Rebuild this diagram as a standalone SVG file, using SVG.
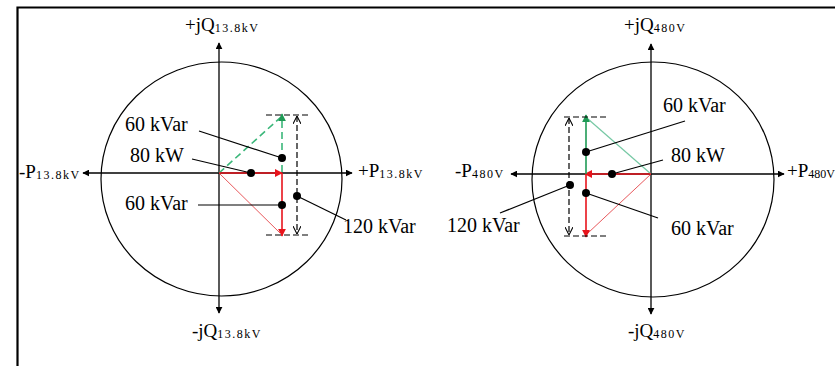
<svg xmlns="http://www.w3.org/2000/svg" width="835" height="366" viewBox="0 0 835 366">
<style>
.ax{stroke:#000;stroke-width:1.3;fill:none}
.circ{stroke:#000;stroke-width:1.2;fill:none}
.red{stroke:#e8141c;stroke-width:1.6;fill:none}
.redt{stroke:#e8585c;stroke-width:1;fill:none}
.grn{stroke:#1f9a55;stroke-width:1.6;fill:none}
.grnd{stroke:#3bb77a;stroke-width:1.6;fill:none;stroke-dasharray:7 4}
.grnt{stroke:#76c8a4;stroke-width:1.2;fill:none}
.dsh{stroke:#000;stroke-width:1.2;fill:none;stroke-dasharray:6 3}
.ld{stroke:#000;stroke-width:1.2;fill:none}
.dot{fill:#000}
text{font-family:"Liberation Serif","Times New Roman",serif;fill:#000}
.lbl{font-size:20px}
.axl{font-size:19px}
.sub{font-size:12px;letter-spacing:1.5px}
.subn{font-size:12px}
</style>
<defs>
<marker id="ak" viewBox="0 0 10 10" refX="9" refY="5" markerWidth="7" markerHeight="7" orient="auto-start-reverse" markerUnits="userSpaceOnUse"><path d="M0,0 L10,5 L0,10 z" fill="#000"/></marker>
<marker id="ar" viewBox="0 0 10 10" refX="9" refY="5" markerWidth="8" markerHeight="8" orient="auto" markerUnits="userSpaceOnUse"><path d="M0,0 L10,5 L0,10 z" fill="#e8141c"/></marker>
<marker id="ag" viewBox="0 0 10 10" refX="9" refY="5" markerWidth="8" markerHeight="8" orient="auto" markerUnits="userSpaceOnUse"><path d="M0,0 L10,5 L0,10 z" fill="#1f9a55"/></marker>
<marker id="ao" viewBox="0 0 10 10" refX="10" refY="5" markerWidth="8" markerHeight="8" orient="auto-start-reverse" markerUnits="userSpaceOnUse"><path d="M0,0 L10,5 L0,10" fill="none" stroke="#000" stroke-width="1.3"/></marker>
</defs>
<rect width="835" height="366" fill="#fff"/>
<path d="M17.5,366 V7.5 H835" stroke="#000" stroke-width="2.2" fill="none"/>

<g id="left-diagram">
<ellipse class="circ" cx="221.5" cy="179" rx="120.5" ry="117"/>
<line class="ax" x1="219" y1="173" x2="219" y2="43" marker-end="url(#ak)"/>
<line class="ax" x1="219" y1="173" x2="219" y2="313" marker-end="url(#ak)"/>
<line class="ax" x1="219" y1="173" x2="83" y2="173" marker-end="url(#ak)"/>
<line class="ax" x1="219" y1="173" x2="352" y2="173" marker-end="url(#ak)"/>
<text class="axl" x="185" y="30.5">+jQ<tspan class="sub" dy="1">13.8kV</tspan></text>
<text class="axl" x="192" y="337">-jQ<tspan class="sub" dy="1">13.8kV</tspan></text>
<text class="axl" x="19" y="178">-P<tspan class="sub" dy="1">13.8kV</tspan></text>
<text class="axl" x="358" y="177">+P<tspan class="sub" dy="1">13.8kV</tspan></text>
</g>

<g id="left-vectors">
<line class="grnd" x1="219" y1="173" x2="281" y2="117"/>
<line class="redt" x1="219" y1="173" x2="280" y2="233"/>
<line class="red" x1="219" y1="173" x2="282" y2="173" marker-end="url(#ar)"/>
<line class="red" x1="282" y1="173" x2="282" y2="236" marker-end="url(#ar)"/>
<line class="grnd" x1="282" y1="172" x2="282" y2="114" marker-end="url(#ag)"/>
<line class="dsh" x1="266" y1="115" x2="308" y2="115"/>
<line class="dsh" x1="266" y1="235" x2="308" y2="235"/>
<line class="dsh" x1="297" y1="116" x2="297" y2="234" marker-start="url(#ao)" marker-end="url(#ao)"/>
</g>

<g id="left-labels">
<line class="ld" x1="199" y1="131" x2="282" y2="158"/>
<line class="ld" x1="192" y1="159" x2="251" y2="173"/>
<line class="ld" x1="198" y1="205" x2="282" y2="205"/>
<line class="ld" x1="297" y1="196" x2="346" y2="220"/>
<circle class="dot" cx="282" cy="158" r="4"/>
<circle class="dot" cx="251" cy="173" r="4"/>
<circle class="dot" cx="282" cy="205" r="4"/>
<circle class="dot" cx="297" cy="196" r="4"/>
<text class="lbl" x="125" y="131">60 kVar</text>
<text class="lbl" x="130" y="162">80 kW</text>
<text class="lbl" x="125" y="210">60 kVar</text>
<text class="lbl" x="343" y="233">120 kVar</text>
</g>

<g id="right-diagram">
<ellipse class="circ" cx="653" cy="179.5" rx="121" ry="117.5"/>
<line class="ax" x1="651" y1="174" x2="651" y2="44" marker-end="url(#ak)"/>
<line class="ax" x1="651" y1="174" x2="651" y2="314" marker-end="url(#ak)"/>
<line class="ax" x1="651" y1="174" x2="511" y2="174" marker-end="url(#ak)"/>
<line class="ax" x1="651" y1="174" x2="784" y2="174" marker-end="url(#ak)"/>
<text class="axl" x="624" y="31">+jQ<tspan class="sub" dy="1">480V</tspan></text>
<text class="axl" x="628" y="337">-jQ<tspan class="sub" dy="1">480V</tspan></text>
<text class="axl" x="455" y="177">-P<tspan class="sub" dy="1">480V</tspan></text>
<text class="axl" x="787" y="177">+P<tspan class="subn" dy="1">480V</tspan></text>
</g>

<g id="right-vectors">
<line class="grnt" x1="651" y1="174" x2="588" y2="119"/>
<line class="redt" x1="651" y1="174" x2="588" y2="233"/>
<line class="red" x1="651" y1="174" x2="585" y2="174" marker-end="url(#ar)"/>
<line class="red" x1="586" y1="174" x2="586" y2="237" marker-end="url(#ar)"/>
<line class="grn" x1="586" y1="174" x2="586" y2="115" marker-end="url(#ag)"/>
<line class="dsh" x1="564" y1="117" x2="608" y2="117"/>
<line class="dsh" x1="564" y1="236" x2="608" y2="236"/>
<line class="dsh" x1="569" y1="118" x2="569" y2="235" marker-start="url(#ao)" marker-end="url(#ao)"/>
</g>

<g id="right-labels">
<line class="ld" x1="586" y1="152" x2="685" y2="121"/>
<line class="ld" x1="612" y1="174" x2="663" y2="160"/>
<line class="ld" x1="586" y1="193" x2="658" y2="218"/>
<line class="ld" x1="570" y1="185" x2="500" y2="213"/>
<circle class="dot" cx="586" cy="152" r="4"/>
<circle class="dot" cx="612" cy="174" r="4"/>
<circle class="dot" cx="586" cy="193" r="4"/>
<circle class="dot" cx="570" cy="185" r="4"/>
<text class="lbl" x="663" y="112">60 kVar</text>
<text class="lbl" x="671" y="162">80 kW</text>
<text class="lbl" x="671" y="235">60 kVar</text>
<text class="lbl" x="447" y="232">120 kVar</text>
</g>
</svg>
